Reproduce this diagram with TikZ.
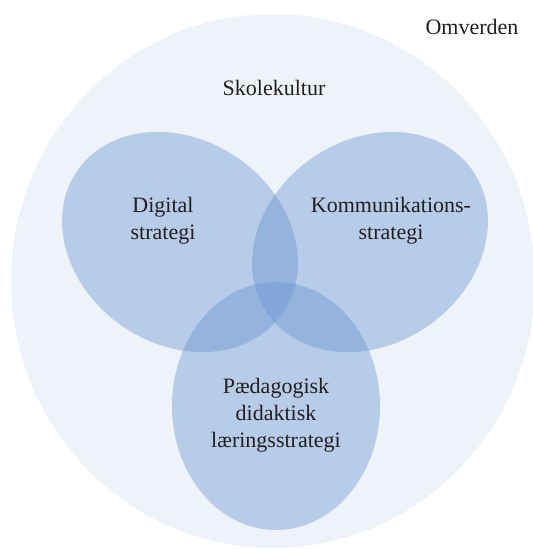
\documentclass[tikz,border=0pt]{standalone}
\usepackage{fontspec}
\setmainfont{Liberation Serif}
\definecolor{outerbg}{HTML}{EEF3FA}
\definecolor{venn}{HTML}{6492CE}
\definecolor{txt}{HTML}{231F20}
\tikzset{
  vennset/.style={fill=venn, fill opacity=0.4},
  lbl/.style={text=txt, font=\fontsize{22}{27}\selectfont, align=center, inner sep=0pt}
}
\begin{document}
\begin{tikzpicture}[x=1pt,y=-1pt]
\useasboundingbox (0,0) rectangle (533,550);
\clip (0,0) rectangle (533,550);
\fill[white] (0,0) rectangle (533,550);
% outer circle (Skolekultur)
\fill[outerbg] (273,281) ellipse [x radius=262, y radius=267];
% three sets
\fill[vennset] (180,242) ellipse [x radius=125, y radius=102, rotate=-35];
\fill[vennset] (370,242) ellipse [x radius=125, y radius=102, rotate=35];
\fill[vennset] (276,406) ellipse [x radius=104, y radius=124];
% labels
\node[lbl] (omv) at (472,27) {Omverden};
\node[lbl] (skole) at (274,88) {Skolekultur};
\node[lbl] (dig) at (163,221) {Digital\\strategi};
\node[lbl] (kom) at (391,221) {Kommunikations-\\strategi};
\node[lbl] (paed) at (276,415) {Pædagogisk\\didaktisk\\læringsstrategi};
\end{tikzpicture}
\end{document}
